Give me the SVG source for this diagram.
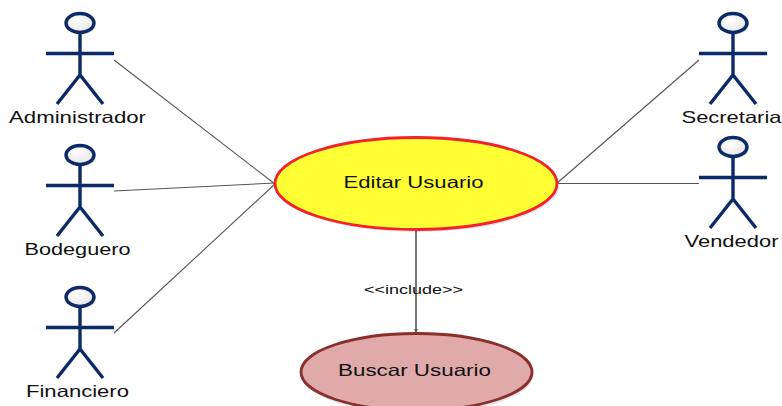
<svg xmlns="http://www.w3.org/2000/svg" width="782" height="406" viewBox="0 0 782 406">
<defs>
<radialGradient id="hg" cx="0.4" cy="0.35" r="0.7"><stop offset="0" stop-color="#ffffff"/><stop offset="1" stop-color="#e4e4e4"/></radialGradient>
<marker id="ah" markerWidth="5" markerHeight="4" refX="4.5" refY="2" orient="auto" markerUnits="userSpaceOnUse"><path d="M0 0L5 2L0 4Z" fill="#555"/></marker>
<g id="actor">
<ellipse cx="1.5" cy="2" rx="14" ry="9.5" fill="#000" opacity="0.12"/>
<ellipse cx="0" cy="0" rx="14" ry="9.5" fill="url(#hg)" stroke="#0b2a68" stroke-width="3.4"/>
<path d="M0 10V52M-34 30.500H34M-23 81L0 52L23 81" fill="none" stroke="#0b2a68" stroke-width="3.4"/>
</g>
</defs>
<style>
text{font-family:"Liberation Sans",Arial,sans-serif;fill:#111;text-anchor:middle}
.l{font-size:16.5px}
.c{fill:none;stroke:#555;stroke-width:1.1}
.i{stroke-width:1.6}
</style>
<rect width="782" height="406" fill="#fff"/>
<g id="connectors">
<path class="c" d="M114 60L275 184"/>
<path class="c" d="M114 191L275 183"/>
<path class="c" d="M114 333L275 184"/>
<path class="c" d="M699 60L556 184"/>
<path class="c" d="M699 183.500H556"/>
<path class="c i" d="M416 230V333" marker-end="url(#ah)"/>
<text x="413.500" y="294" font-size="13" textLength="99" lengthAdjust="spacingAndGlyphs">&lt;&lt;include&gt;&gt;</text>
</g>
<g id="administrador"><use href="#actor" x="80" y="23"/><text class="l" x="77.500" y="123" textLength="137" lengthAdjust="spacingAndGlyphs">Administrador</text></g>
<g id="bodeguero"><use href="#actor" x="80" y="155"/><text class="l" x="77.500" y="255" textLength="106" lengthAdjust="spacingAndGlyphs">Bodeguero</text></g>
<g id="financiero"><use href="#actor" x="80" y="297"/><text class="l" x="77.500" y="397" textLength="103" lengthAdjust="spacingAndGlyphs">Financiero</text></g>
<g id="secretaria"><use href="#actor" x="733" y="23"/><text class="l" x="731.500" y="123" textLength="100" lengthAdjust="spacingAndGlyphs">Secretaria</text></g>
<g id="vendedor"><use href="#actor" x="733" y="147"/><text class="l" x="731.500" y="247" textLength="94" lengthAdjust="spacingAndGlyphs">Vendedor</text></g>
<g id="editar-usuario">
<ellipse cx="418" cy="186" rx="141" ry="46" fill="#000" opacity="0.1"/>
<ellipse cx="416" cy="183.500" rx="141" ry="46" fill="#ffff33" stroke="#f5202a" stroke-width="2.800"/>
<text class="l" x="413.500" y="188" textLength="140" lengthAdjust="spacingAndGlyphs">Editar Usuario</text>
</g>
<g id="buscar-usuario">
<ellipse cx="418" cy="374" rx="116" ry="40" fill="#000" opacity="0.1"/>
<ellipse cx="416.500" cy="372" rx="115.500" ry="38.500" fill="#e0aaaa" stroke="#8a302c" stroke-width="2.800"/>
<text class="l" x="414.500" y="376" textLength="153" lengthAdjust="spacingAndGlyphs">Buscar Usuario</text>
</g>
</svg>
